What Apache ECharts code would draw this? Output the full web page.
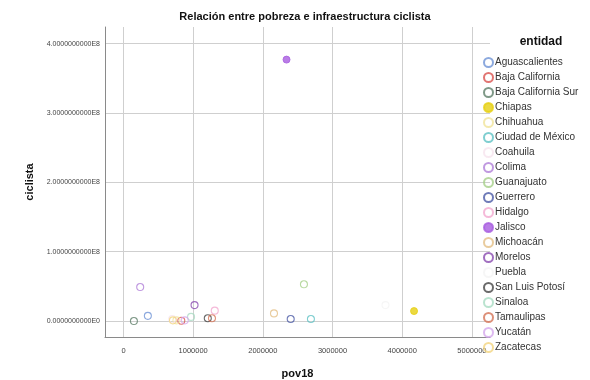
<!DOCTYPE html>
<html>
<head>
<meta charset="utf-8">
<script src="https://cdn.jsdelivr.net/npm/echarts@6/dist/echarts.min.js"></script>
<style>
html,body{margin:0;padding:0;background:#fff;}
#chart{width:590px;height:380px;}
</style>
</head>
<body>
<div id="chart"></div>
<script>
// Data
const entidades = ["Aguascalientes","Baja California","Baja California Sur","Chiapas","Chihuahua","Ciudad de México","Coahuila","Colima","Guanajuato","Guerrero","Hidalgo","Jalisco","Michoacán","Morelos","Puebla","San Luis Potosí","Sinaloa","Tamaulipas","Yucatán","Zacatecas"];
const pov18 =    [350000, 830000, 150000, 4170000, 760000, 2690000, 700000, 240000, 2590000, 2400000, 1310000, 2340000, 2160000, 1020000, 3760000, 1210000, 970000, 1270000, 880000, 710000];
const ciclista = [7500000, 500000, 0, 14400000, 1000000, 3000000, 3000000, 49000000, 53000000, 3000000, 15000000, 377000000, 11000000, 23000000, 23000000, 4000000, 6000000, 4000000, 1000000, 1000000];
const colores = ["#6f93d6","#d9534f","#5f7f6a","#e6cf12","#f0e49a","#5fc2c4","#f6e3ee","#b07fd8","#a6d08a","#4b5aa6","#f2a9d0","#a85ce0","#e3bf86","#8a4bb0","#f4f4f4","#454545","#a9dcc3","#d47458","#d5a8ec","#f2d47f"];
const rellenos = [false,false,false,true,false,false,false,false,false,false,false,true,false,false,false,false,false,false,false,false];
const xTicks = [0,1000000,2000000,3000000,4000000,5000000];
const yTicks = [0,100000000,200000000,300000000,400000000];

function sci(v){
  if (v === 0) return "0.0000000000E0";
  const e = Math.floor(Math.log10(Math.abs(v)) + 1e-9);
  const m = v / Math.pow(10, e);
  return m.toFixed(10) + "E" + e;
}

const series = entidades.map((n, i) => ({
  name: n,
  type: 'scatter',
  symbol: 'circle',
  symbolSize: 7,
  data: [[pov18[i], ciclista[i]]],
  itemStyle: rellenos[i]
    ? { color: colores[i], borderColor: colores[i], borderWidth: 1 }
    : { color: 'rgba(255,255,255,0)', borderColor: colores[i], borderWidth: 1.1 },
  emphasis: { disabled: true }
}));

const chart = echarts.init(document.getElementById('chart'), null, {renderer: 'canvas'});
chart.setOption({
  animation: false,
  backgroundColor: '#ffffff',
  textStyle: { fontFamily: 'Liberation Sans, Arial, sans-serif' },
  title: [
    { text: 'Relación entre pobreza e infraestructura ciclista', left: 300, top: 6, textAlign: 'center',
      textStyle: { fontSize: 11, fontWeight: 'bold', color: '#111', fontFamily: 'Liberation Sans, Arial, sans-serif' } },
    { text: 'entidad', left: 536, top: 31, textAlign: 'center',
      textStyle: { fontSize: 12, fontWeight: 'bold', color: '#111', fontFamily: 'Liberation Sans, Arial, sans-serif' } }
  ],
  grid: { left: 105, right: 100, top: 27, bottom: 43, containLabel: false, outerBoundsMode: 'none' },
  xAxis: {
    type: 'value',
    min: -265000, max: 5260000,
    name: 'pov18', nameLocation: 'middle', nameGap: 31,
    nameTextStyle: { fontSize: 11, fontWeight: 'bold', color: '#111' },
    axisLine: { show: true, onZero: false, lineStyle: { color: '#8a8a8a', width: 1 } },
    axisTick: { show: false, customValues: xTicks },
    axisLabel: { customValues: xTicks, fontSize: 7.5, color: '#444', margin: 10, formatter: v => String(Math.round(v)) },
    splitLine: { show: true, lineStyle: { color: '#cfcfcf', width: 1 } }
  },
  yAxis: {
    type: 'value',
    min: -23000000, max: 424000000,
    name: 'ciclista', nameLocation: 'middle', nameGap: 63, nameRotate: 90,
    nameTextStyle: { fontSize: 11, fontWeight: 'bold', color: '#111' },
    axisLine: { show: true, onZero: false, lineStyle: { color: '#8a8a8a', width: 1 } },
    axisTick: { show: false, customValues: yTicks },
    axisLabel: { customValues: yTicks, fontSize: 7, color: '#444', margin: 5, formatter: v => sci(v) },
    splitLine: { show: true, lineStyle: { color: '#cfcfcf', width: 1 } }
  },
  legend: {
    orient: 'vertical',
    left: 478, top: 52,
    itemWidth: 9, itemHeight: 9, itemGap: 4.0,
    icon: 'circle',
    textStyle: { fontSize: 10, lineHeight: 10, height: 10, color: '#333', padding: [0,0,0,-3] },
    selectedMode: false,
    data: entidades
  },
  series: series
});
</script>
</body>
</html>
